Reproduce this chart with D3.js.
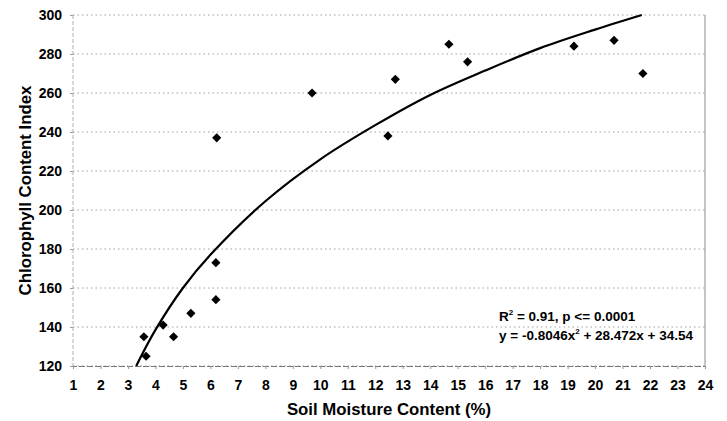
<!DOCTYPE html>
<html>
<head>
<meta charset="utf-8">
<script src="https://cdn.jsdelivr.net/npm/d3@7"></script>
<style>
  html, body { margin: 0; padding: 0; background: #fff; }
  svg text { font-family: "Liberation Sans", Arial, sans-serif; font-weight: bold; fill: #000; }
</style>
</head>
<body>
<svg id="chart" width="727" height="421"></svg>
<script>
// Soil moisture vs chlorophyll content index, scatter with fitted curve

const moisture = [3.58, 3.66, 4.28, 4.66, 5.29, 6.2, 6.2, 6.23, 9.7, 12.46, 12.73, 14.68, 15.36, 19.23, 20.69, 21.74];
const chlorophyll = [135, 125, 141, 135, 147, 173, 154, 237, 260, 238, 267, 285, 276, 284, 287, 270];

// trend line
const trendX = [3.3, 4, 5, 6, 8, 10, 12, 14, 16, 18, 20, 21.7];
const trendY = [120, 138.5, 160, 177, 204.5, 226, 243.5, 259, 271.5, 283, 292.5, 300];

const xTicks = d3.range(1, 25);
const yTicks = [120, 140, 160, 180, 200, 220, 240, 260, 280, 300];

const statLines = [["R", "2", " = 0.91, p <= 0.0001"], ["y = -0.8046x", "2", " + 28.472x + 34.54"]];

const svg = d3.select("#chart");
const margin = { left: 73, right: 22, top: 15, bottom: 55 };
const W = 727, H = 421;

const x = d3.scaleLinear().domain([1, 24]).range([margin.left, W - margin.right]);
const y = d3.scaleLinear().domain([120, 300]).range([H - margin.bottom, margin.top]);

// gridlines
svg.append("g")
  .selectAll("line")
  .data(yTicks)
  .join("line")
  .attr("x1", x(1))
  .attr("x2", x(24))
  .attr("y1", (d) => y(d))
  .attr("y2", (d) => y(d))
  .attr("stroke", "#a0a0a0")
  .attr("stroke-width", 1)
  .attr("stroke-dasharray", "1.5,3");

// plot border (left / right)
svg.append("line")
  .attr("x1", x(1)).attr("x2", x(1))
  .attr("y1", y(300)).attr("y2", y(120))
  .attr("stroke", "#b0b0b0")
  .attr("stroke-dasharray", "4,2");
svg.append("line")
  .attr("x1", x(24)).attr("x2", x(24))
  .attr("y1", y(300)).attr("y2", y(120))
  .attr("stroke", "#8a8a8a");

// x axis
const xAxis = svg.append("g")
  .attr("transform", "translate(0," + y(120) + ")")
  .call(d3.axisBottom(x).tickValues(xTicks).tickSize(3).tickPadding(11).tickFormat(d3.format("d")));
xAxis.select(".domain").attr("stroke", "#777").attr("stroke-dasharray", "6,2");
xAxis.selectAll(".tick line").attr("stroke", "#999");
xAxis.selectAll("text").attr("font-size", 14);

// y axis
const yAxis = svg.append("g")
  .attr("transform", "translate(" + x(1) + ",0)")
  .call(d3.axisLeft(y).tickValues(yTicks).tickSize(3).tickPadding(8));
yAxis.select(".domain").remove();
yAxis.selectAll(".tick line").attr("stroke", "#999");
yAxis.selectAll("text").attr("font-size", 14);

// trend curve
const line = d3.line()
  .x((d, i) => x(trendX[i]))
  .y((d) => y(d))
  .curve(d3.curveCatmullRom.alpha(0.5));
svg.append("path")
  .attr("d", line(trendY))
  .attr("fill", "none")
  .attr("stroke", "#000")
  .attr("stroke-width", 2.2);

// points
const diamond = d3.symbol().type(d3.symbolSquare).size(42);
svg.append("g")
  .selectAll("path")
  .data(moisture)
  .join("path")
  .attr("d", diamond)
  .attr("transform", (d, i) => "translate(" + x(d) + "," + y(chlorophyll[i]) + ") rotate(45)")
  .attr("fill", "#000");

// stats text
const statText = svg.append("g")
  .selectAll("text")
  .data(statLines)
  .join("text")
  .attr("x", 499)
  .attr("y", (d, i) => 321 + i * 19)
  .attr("font-size", 13.5);
statText.each(function(parts) {
  const t = d3.select(this);
  t.append("tspan").text(parts[0]);
  t.append("tspan").attr("font-size", 8).attr("dy", -6).text(parts[1]);
  t.append("tspan").attr("dy", 6).text(parts[2]);
});

// axis titles
svg.append("text")
  .attr("x", (x(1) + x(24)) / 2)
  .attr("y", 415)
  .attr("text-anchor", "middle")
  .attr("font-size", 16.8)
  .text("Soil Moisture Content (%)");

svg.append("text")
  .attr("transform", "translate(31," + ((y(120) + y(300)) / 2) + ") rotate(-90)")
  .attr("text-anchor", "middle")
  .attr("font-size", 16.8)
  .text("Chlorophyll Content Index");
</script>
</body>
</html>
